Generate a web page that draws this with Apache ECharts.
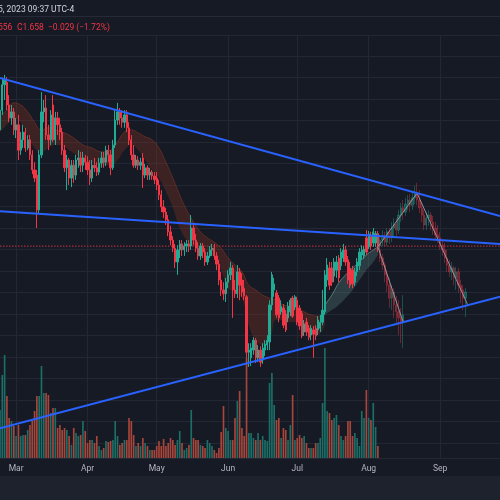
<!DOCTYPE html>
<html><head><meta charset="utf-8">
<script src="https://cdn.jsdelivr.net/npm/echarts@6/dist/echarts.min.js"></script>
<style>html,body{margin:0;padding:0;background:#161a25;}#c{width:500px;height:500px;}</style>
</head><body><div id="c"></div>
<script>
// ---------- data ----------
const startYear = 2023, startMonth = 1, startDay = 22; // 2023-02-22
const dayCount = 218;
const monthNames = ['Jan','Feb','Mar','Apr','May','Jun','Jul','Aug','Sep','Oct','Nov','Dec'];
const headerDate = '5, 2023 09:37 UTC-4';
const headerLow = '556';
const headerClose = 'C1.658';
const headerChange = '\u22120.029 (\u22121.72%)';

// real candles [open, close, low, high], day 0 = Feb 22
const candles = [
[1.928,1.974,1.916,1.998],[1.974,2.033,1.963,2.049],[2.033,2.044,1.998,2.056],[2.039,1.986,1.974,2.051],[1.986,1.956,1.946,2.009],
[1.956,1.970,1.940,1.986],[1.970,1.928,1.916,1.979],[1.928,1.940,1.909,1.956],[1.940,1.881,1.858,1.963],[1.881,1.905,1.870,1.923],
[1.905,1.923,1.886,1.940],[1.923,1.886,1.877,1.933],[1.886,1.905,1.881,1.916],[1.905,1.870,1.858,1.916],[1.870,1.835,1.825,1.881],
[1.835,1.816,1.807,1.853],[1.823,1.742,1.700,1.835],[1.742,1.870,1.733,1.881],[1.870,1.970,1.863,2.016],[1.970,1.979,1.946,1.998],
[1.979,1.916,1.905,2.009],[1.916,1.905,1.881,1.940],[1.905,1.963,1.893,1.974],[1.986,1.905,1.900,2.009],[1.905,1.956,1.893,1.970],
[1.956,1.940,1.916,1.970],[1.940,1.923,1.905,1.956],[1.923,1.881,1.870,1.933],[1.881,1.840,1.830,1.893],[1.840,1.858,1.788,1.870],
[1.858,1.816,1.800,1.863],[1.816,1.846,1.795,1.858],[1.846,1.823,1.805,1.858],[1.823,1.858,1.812,1.870],[1.858,1.863,1.840,1.881],
[1.863,1.846,1.830,1.877],[1.846,1.863,1.830,1.877],[1.863,1.853,1.835,1.870],[1.853,1.835,1.823,1.867],[1.835,1.816,1.800,1.858],
[1.816,1.846,1.807,1.858],[1.846,1.840,1.830,1.863],[1.840,1.830,1.821,1.853],[1.830,1.851,1.823,1.863],[1.851,1.863,1.840,1.877],
[1.863,1.853,1.840,1.877],[1.853,1.881,1.844,1.891],[1.881,1.870,1.853,1.893],[1.870,1.840,1.823,1.881],[1.840,1.893,1.835,1.905],
[1.893,1.951,1.886,1.974],[1.951,1.970,1.940,1.991],[1.970,1.956,1.940,1.979],[1.956,1.946,1.933,1.974],[1.946,1.963,1.933,1.974],
[1.963,1.933,1.923,1.974],[1.933,1.905,1.893,1.946],[1.905,1.870,1.858,1.916],[1.870,1.846,1.840,1.893],[1.846,1.858,1.840,1.870],
[1.858,1.846,1.835,1.867],[1.846,1.853,1.835,1.863],[1.863,1.823,1.793,1.874],[1.823,1.840,1.816,1.849],[1.840,1.823,1.812,1.846],
[1.823,1.830,1.812,1.840],[1.830,1.821,1.812,1.835],[1.821,1.812,1.802,1.830],[1.816,1.800,1.788,1.830],[1.800,1.777,1.765,1.812],
[1.777,1.749,1.737,1.788],[1.749,1.737,1.723,1.765],[1.737,1.719,1.707,1.747],[1.719,1.691,1.681,1.730],[1.691,1.672,1.660,1.705],
[1.672,1.653,1.644,1.681],[1.653,1.621,1.607,1.663],[1.621,1.649,1.591,1.660],[1.649,1.663,1.630,1.672],[1.663,1.649,1.635,1.672],
[1.649,1.658,1.635,1.667],[1.658,1.663,1.644,1.672],[1.663,1.658,1.644,1.672],[1.658,1.700,1.649,1.730],[1.700,1.672,1.660,1.707],
[1.672,1.653,1.644,1.686],[1.653,1.635,1.626,1.667],[1.635,1.658,1.626,1.665],[1.658,1.644,1.630,1.665],[1.644,1.621,1.612,1.653],
[1.621,1.635,1.614,1.644],[1.635,1.649,1.630,1.658],[1.649,1.653,1.635,1.663],[1.653,1.635,1.626,1.663],[1.635,1.616,1.602,1.644],
[1.616,1.579,1.567,1.626],[1.579,1.556,1.542,1.598],[1.556,1.547,1.532,1.574],[1.547,1.574,1.528,1.584],[1.574,1.591,1.560,1.602],
[1.591,1.607,1.579,1.621],[1.607,1.556,1.491,1.614],[1.556,1.547,1.537,1.579],[1.547,1.598,1.537,1.614],[1.598,1.567,1.532,1.607],
[1.579,1.551,1.540,1.595],[1.560,1.542,1.532,1.579],[1.540,1.411,1.398,1.544],[1.411,1.416,1.377,1.432],[1.398,1.421,1.379,1.432],
[1.416,1.439,1.405,1.446],[1.439,1.398,1.386,1.444],[1.398,1.416,1.388,1.428],[1.416,1.388,1.377,1.425],[1.393,1.421,1.384,1.432],
[1.416,1.430,1.402,1.439],[1.428,1.439,1.416,1.451],[1.435,1.521,1.416,1.532],[1.521,1.591,1.509,1.598],[1.556,1.570,1.540,1.584],
[1.549,1.498,1.491,1.556],[1.537,1.491,1.481,1.544],[1.505,1.518,1.498,1.532],[1.514,1.474,1.467,1.523],[1.500,1.463,1.458,1.509],
[1.491,1.518,1.481,1.528],[1.505,1.532,1.495,1.537],[1.537,1.495,1.491,1.542],[1.516,1.540,1.509,1.544],[1.532,1.481,1.474,1.540],
[1.514,1.472,1.463,1.521],[1.502,1.449,1.444,1.507],[1.458,1.477,1.449,1.486],[1.481,1.458,1.449,1.491],[1.467,1.446,1.439,1.474],
[1.451,1.467,1.439,1.474],[1.463,1.453,1.398,1.472],[1.467,1.449,1.439,1.474],[1.463,1.486,1.451,1.495],[1.467,1.481,1.458,1.498],
[1.481,1.509,1.474,1.556],[1.505,1.591,1.498,1.602],[1.579,1.614,1.563,1.630],[1.607,1.567,1.556,1.621],[1.607,1.574,1.565,1.621],
[1.588,1.621,1.574,1.630],[1.602,1.621,1.584,1.635],[1.630,1.584,1.574,1.637],[1.612,1.644,1.602,1.653],[1.630,1.649,1.621,1.663],
[1.649,1.621,1.612,1.658],[1.626,1.579,1.570,1.635],[1.607,1.567,1.560,1.621],[1.602,1.570,1.560,1.612],[1.574,1.598,1.565,1.607],
[1.598,1.621,1.588,1.630],[1.612,1.644,1.602,1.653],[1.637,1.649,1.626,1.660],[1.635,1.651,1.628,1.658],[1.677,1.644,1.637,1.695],
[1.656,1.686,1.651,1.693],[1.681,1.658,1.649,1.691],[1.665,1.691,1.656,1.700],[1.665,1.687,1.656,1.693],[1.687,1.658,1.644,1.693]
];
const volumes = [
48,83,103,62,40,37,32,22,33,22, 23,23,28,33,37,47,62,62,92,65, 65,63,45,50,50,30,33,28,30,28,
22,13,30,25,22,23,37,27,15,18, 18,15,22,12,8,10,17,16,17,18, 37,22,13,15,18,18,40,37,23,12,
15,12,20,15,12,8,8,8,12,17, 12,19,12,15,20,18,13,18,27,15, 8,10,13,48,20,18,18,13,12,10,
18,15,12,8,5,10,26,52,30,27, 18,18,40,57,67,30,22,100,25,25, 20,18,25,18,22,18,17,75,85,53,
38,40,20,30,28,18,33,63,18,20, 23,20,22,15,10,10,10,15,15,20, 55,110,47,45,38,40,43,33,22,18,
22,37,37,22,25,20,12,47,40,68, 40,38,55,31,12
];
// ghost-feed projections (faded candles)
const ghostAStart = 165;
const ghostA = [
[1.658,1.672,1.644,1.684],[1.672,1.681,1.658,1.695],[1.681,1.667,1.658,1.691],[1.667,1.691,1.658,1.700],[1.691,1.677,1.663,1.700],
[1.677,1.700,1.667,1.714],[1.700,1.709,1.681,1.723],[1.709,1.695,1.681,1.723],[1.695,1.730,1.686,1.742],[1.730,1.747,1.714,1.758],
[1.747,1.737,1.719,1.765],[1.737,1.756,1.728,1.770],[1.756,1.765,1.742,1.777],[1.765,1.753,1.737,1.779],[1.753,1.770,1.742,1.784],
[1.770,1.779,1.756,1.798],[1.779,1.765,1.753,1.805],[1.765,1.747,1.735,1.788],[1.747,1.730,1.714,1.758],[1.730,1.707,1.695,1.742],
[1.707,1.723,1.695,1.737],[1.723,1.730,1.705,1.742],[1.730,1.714,1.695,1.737],[1.714,1.700,1.684,1.728],[1.700,1.684,1.672,1.714],
[1.684,1.677,1.665,1.707],[1.677,1.660,1.649,1.691],[1.660,1.649,1.635,1.672],[1.649,1.630,1.619,1.665],[1.630,1.614,1.598,1.649],
[1.614,1.598,1.586,1.626],[1.598,1.607,1.579,1.621],[1.607,1.584,1.567,1.612],[1.584,1.598,1.556,1.609],[1.598,1.567,1.549,1.607],
[1.567,1.556,1.525,1.579],[1.556,1.537,1.509,1.567],[1.537,1.551,1.493,1.560]
];
const ghostBStart = 165;
const ghostB = [
[1.649,1.630,1.621,1.658],[1.630,1.614,1.602,1.640],[1.614,1.591,1.574,1.621],[1.591,1.567,1.551,1.602],[1.567,1.537,1.514,1.584],
[1.537,1.551,1.509,1.567],[1.551,1.521,1.491,1.560],[1.521,1.505,1.474,1.542],[1.505,1.491,1.451,1.532],[1.491,1.481,1.432,1.514],
[1.481,1.498,1.421,1.544]
];
const ghostPathA = [[164,1.656],[181,1.781],[203,1.521]];
const ghostPathB = [[164,1.656],[175,1.481]];
// trend lines [dayIndex, price]
const trendUpper = [[0,2.049],[217,1.728]];
const trendMiddle = [[0,1.739],[217,1.663]];
const trendLower = [[0,1.234],[217,1.540]];
// moving-average ribbon envelope
const ribbonDownIdx = [0,3,6,9,12,15,18,21,24,27,30,33,36,40,44,48,51,54,57,60,63,66,69,72,75,78,81,84,87,90,93,96,99,102,105,108,111,114,117,120,123,126,129,132,135,138,141];
const ribbonDownHi = [1.963,1.974,1.991,1.986,1.970,1.946,1.928,1.933,1.928,1.923,1.916,1.905,1.893,1.886,1.877,1.881,1.900,1.923,1.928,1.921,1.912,1.905,1.886,1.853,1.816,1.777,1.742,1.714,1.691,1.677,1.667,1.653,1.630,1.614,1.598,1.567,1.556,1.544,1.537,1.532,1.521,1.518,1.514,1.505,1.498,1.495,1.502];
const ribbonDownLo = [1.923,1.940,1.956,1.946,1.916,1.886,1.877,1.886,1.893,1.891,1.881,1.870,1.858,1.851,1.846,1.846,1.858,1.881,1.893,1.881,1.858,1.835,1.816,1.784,1.747,1.700,1.672,1.658,1.649,1.637,1.635,1.602,1.560,1.551,1.537,1.474,1.439,1.428,1.439,1.486,1.486,1.481,1.481,1.463,1.456,1.453,1.474];
const ribbonUpIdx = [141,144,147,150,153,156,159,162,164];
const ribbonUpHi = [1.521,1.544,1.572,1.591,1.607,1.621,1.637,1.649,1.656];
const ribbonUpLo = [1.498,1.509,1.521,1.537,1.556,1.579,1.602,1.621,1.637];

// ---------- build ----------
const UP = '#22ab94', DOWN = '#f23645';
const cats = [];
for (let i = 0; i < dayCount; i++) {
  const d = new Date(Date.UTC(startYear, startMonth, startDay + i));
  cats.push(d.toISOString().slice(0, 10));
}
const isMonthStart = (idx) => cats[idx] && cats[idx].slice(8) === '01';
function pad(arr, start) {
  const out = [];
  for (let i = 0; i < dayCount; i++) {
    const k = i - start;
    out.push(k >= 0 && k < arr.length ? arr[k] : ['-', '-', '-', '-']);
  }
  return out;
}
const volData = volumes.map((v, i) => ({
  value: v,
  itemStyle: { color: candles[i][1] >= candles[i][0] ? '#1c6f67' : '#a8463b' }
}));
function band(idx, lo, hi) {
  return {
    lo: idx.map((x, k) => [x, lo[k]]),
    diff: idx.map((x, k) => [x, +(hi[k] - lo[k]).toFixed(4)])
  };
}
const bDown = band(ribbonDownIdx, ribbonDownLo, ribbonDownHi);
const bUp = band(ribbonUpIdx, ribbonUpLo, ribbonUpHi);
const lastClose = candles[candles.length - 1][1];
const priceLine = [[0, lastClose], [dayCount - 1, lastClose]];

const chart = echarts.init(document.getElementById('c'), null, { renderer: 'canvas' });
const xBase = {
  type: 'category', data: cats, boundaryGap: false,
  axisLine: { show: false }, axisTick: { show: false }
};
const trendStyle = { color: '#2962ff', width: 2 };
const option = {
  backgroundColor: '#161a25',
  animation: false,
  textStyle: { fontFamily: 'Roboto, "Liberation Sans", sans-serif' },
  grid: [
    { left: 0, right: 0, top: 35, bottom: 42 },
    { left: 0, right: 0, top: 35, bottom: 42 }
  ],
  xAxis: [
    Object.assign({}, xBase, {
      gridIndex: 0, axisLabel: { show: false },
      splitLine: { show: true, interval: (i) => isMonthStart(i), lineStyle: { color: '#232735', width: 1 } }
    }),
    Object.assign({}, xBase, {
      gridIndex: 1,
      axisLabel: {
        show: true, interval: (i) => isMonthStart(i), color: '#b2b5be', fontSize: 8.5, margin: 6,
        formatter: (v) => monthNames[parseInt(v.slice(5, 7), 10) - 1]
      },
      splitLine: { show: false }
    })
  ],
  yAxis: [
    { gridIndex: 0, type: 'value', min: 1.1651, max: 2.1488, splitNumber: 20, scale: true,
      axisLabel: { show: false }, axisLine: { show: false }, axisTick: { show: false },
      splitLine: { show: true, lineStyle: { color: '#232735', width: 1 } } },
    { gridIndex: 1, type: 'value', min: 0, max: 423, show: false, splitLine: { show: false } }
  ],
  series: [
    { type: 'bar', xAxisIndex: 1, yAxisIndex: 1, data: volData, barWidth: '72%', z: 1, silent: true },
    { type: 'line', data: priceLine, symbol: 'none', z: 1, silent: true,
      lineStyle: { color: '#a32e39', type: [1.5, 1.5], width: 1.2 } },
    { type: 'line', stack: 'rd', data: bDown.lo, smooth: true, symbol: 'none', lineStyle: { width: 0 }, z: 2, silent: true },
    { type: 'line', stack: 'rd', data: bDown.diff, smooth: true, symbol: 'none',
      lineStyle: { width: 1, color: 'rgba(150,60,40,0.5)' }, areaStyle: { color: 'rgba(130,50,35,0.5)' }, z: 2, silent: true },
    { type: 'line', stack: 'ru', data: bUp.lo, smooth: true, symbol: 'none', lineStyle: { width: 0 }, z: 2, silent: true },
    { type: 'line', stack: 'ru', data: bUp.diff, smooth: true, symbol: 'none',
      lineStyle: { width: 1, color: 'rgba(140,190,180,0.5)' }, areaStyle: { color: 'rgba(110,170,160,0.35)' }, z: 2, silent: true },
    { type: 'candlestick', data: candles, barWidth: '78%', z: 3, silent: true,
      itemStyle: { color: UP, color0: DOWN, borderColor: UP, borderColor0: DOWN, borderWidth: 1 } },
    { type: 'candlestick', data: pad(ghostA, ghostAStart), barWidth: '78%', z: 3, silent: true,
      itemStyle: { color: UP, color0: DOWN, borderColor: UP, borderColor0: DOWN, borderWidth: 1, opacity: 0.38 } },
    { type: 'candlestick', data: pad(ghostB, ghostBStart), barWidth: '78%', z: 3, silent: true,
      itemStyle: { color: UP, color0: DOWN, borderColor: UP, borderColor0: DOWN, borderWidth: 1, opacity: 0.38 } },
    { type: 'line', data: ghostPathA, symbol: 'none', lineStyle: { color: '#a3a6af', width: 1, opacity: 0.85 }, z: 4, silent: true },
    { type: 'line', data: ghostPathB, symbol: 'none', lineStyle: { color: '#a3a6af', width: 1, opacity: 0.85 }, z: 4, silent: true },
    { type: 'line', data: trendUpper, symbol: 'none', lineStyle: trendStyle, z: 5, silent: true },
    { type: 'line', data: trendMiddle, symbol: 'none', lineStyle: trendStyle, z: 5, silent: true },
    { type: 'line', data: trendLower, symbol: 'none', lineStyle: trendStyle, z: 5, silent: true }
  ],
  graphic: [
    { type: 'rect', shape: { x: 0, y: 476, width: 500, height: 24 }, style: { fill: '#1e222d' }, z: 0 },
    { type: 'line', shape: { x1: 0, y1: 16.5, x2: 500, y2: 16.5 }, style: { stroke: '#262a36', lineWidth: 1 } },
    { type: 'text', x: -2, y: 10, style: { text: headerDate, fill: '#d1d4dc', fontSize: 8.5, fontFamily: 'Roboto', verticalAlign: 'middle' } },
    { type: 'text', x: -2, y: 27.5, style: { text: headerLow, fill: '#f23645', fontSize: 8.5, fontFamily: 'Roboto', verticalAlign: 'middle' } },
    { type: 'text', x: 17, y: 27.5, style: { text: headerClose, fill: '#f23645', fontSize: 8.5, fontFamily: 'Roboto', verticalAlign: 'middle' } },
    { type: 'text', x: 48, y: 27.5, style: { text: headerChange, fill: '#f23645', fontSize: 8.5, fontFamily: 'Roboto', verticalAlign: 'middle' } }
  ]
};
chart.setOption(option);
</script>
</body></html>
